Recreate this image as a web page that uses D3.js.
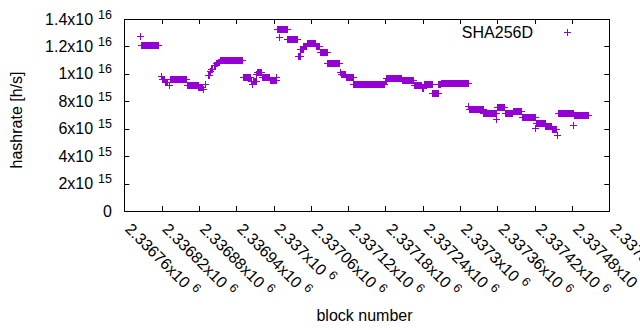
<!DOCTYPE html>
<html><head><meta charset="utf-8">
<script src="https://cdn.jsdelivr.net/npm/d3@7"></script>
<style>body{margin:0;background:#fff}svg{display:block}</style>
</head><body><svg id="c" width="640" height="330"></svg>
<script>
// Runs of consecutive blocks that share the same estimated hashrate
const runStart = [2336786,2336787,2336820,2336821,2336826,2336832,2336835,2336861,2336880,2336887,2336890,2336896,2336899,2336901,2336905,2336909,2336912,2336915,2336951,2336964,2336966,2336967,2336973,2336974,2336982,2336995,2337005,2337006,2337009,2337010,2337023,2337040,2337044,2337049,2337054,2337059,2337069,2337075,2337087,2337107,2337109,2337117,2337129,2337180,2337182,2337207,2337226,2337239,2337242,2337256,2337266,2337270,2337314,2337315,2337338,2337359,2337360,2337373,2337386,2337400,2337422,2337423,2337438,2337448,2337456,2337458,2337483,2337484];
const runEnd   = [2336786,2336815,2336820,2336825,2336830,2336833,2336860,2336879,2336885,2336887,2336891,2336897,2336899,2336902,2336906,2336910,2336913,2336950,2336963,2336965,2336966,2336972,2336973,2336981,2336994,2337004,2337005,2337008,2337009,2337022,2337038,2337043,2337048,2337053,2337058,2337068,2337074,2337086,2337106,2337108,2337116,2337128,2337179,2337181,2337206,2337225,2337238,2337241,2337255,2337265,2337269,2337313,2337314,2337337,2337358,2337359,2337372,2337385,2337399,2337421,2337422,2337437,2337447,2337455,2337457,2337482,2337483,2337506];
const runValue = [12.76e15,12.1e15,9.8e15,9.6e15,9.4e15,9.15e15,9.6e15,9.17e15,9.0e15,8.83e15,9.26e15,9.85e15,10.16e15,10.33e15,10.58e15,10.77e15,10.85e15,10.94e15,9.75e15,9.43e15,9.19e15,9.43e15,9.92e15,10.12e15,9.75e15,9.48e15,9.75e15,13.2e15,12.64e15,13.2e15,12.52e15,11.3e15,11.74e15,12.03e15,12.18e15,12.23e15,11.98e15,11.57e15,10.77e15,10.09e15,9.92e15,9.75e15,9.26e15,9.43e15,9.68e15,9.55e15,9.12e15,8.95e15,9.24e15,8.58e15,9.19e15,9.33e15,7.6e15,7.37e15,7.08e15,6.69e15,7.56e15,7.13e15,7.24e15,6.83e15,6.03e15,6.40e15,6.15e15,5.91e15,5.54e15,7.08e15,6.27e15,7.0e15];
const xTicks = [2336760,2336820,2336880,2336940,2337000,2337060,2337120,2337180,2337240,2337300,2337360,2337420,2337480,2337540];
const yTicks = [0,2e15,4e15,6e15,8e15,1e16,1.2e16,1.4e16];
const seriesName = "SHA256D";

const points = [];
runStart.forEach((s,i)=>{ d3.range(s, runEnd[i]+1).forEach(b=>points.push({block:b, value:runValue[i]})); });

const svg = d3.select("#c");
const L=124.3, R=609.3, T=19, B=211;
const x = d3.scaleLinear().domain([2336760,2337540]).range([L,R]);
const y = d3.scaleLinear().domain([0,1.4e16]).range([B,T]);
const font = "'Liberation Sans', Arial, sans-serif";
const color = "#9400d3";
const tl = 5;

// ticks (inward, mirrored)
const g = svg.append("g").attr("stroke","#000").attr("stroke-width",1);
xTicks.forEach(t=>{
  const px = Math.round(x(t))+0.5;
  g.append("line").attr("x1",px).attr("x2",px).attr("y1",B).attr("y2",B-tl);
  g.append("line").attr("x1",px).attr("x2",px).attr("y1",T).attr("y2",T+tl);
});
yTicks.forEach(t=>{
  const py = Math.round(y(t))+0.5;
  g.append("line").attr("x1",L).attr("x2",L+tl).attr("y1",py).attr("y2",py);
  g.append("line").attr("x1",R).attr("x2",R-tl).attr("y1",py).attr("y2",py);
});
svg.append("rect").attr("x",Math.round(L)+0.5).attr("y",T+0.5).attr("width",Math.round(R)-Math.round(L)).attr("height",B-T)
  .attr("fill","none").attr("stroke","#000").attr("stroke-width",1);

// y tick labels
yTicks.forEach(t=>{
  const tx = svg.append("text").attr("x",112).attr("y",y(t)+5.5).attr("text-anchor","end")
    .attr("font-family",font).attr("font-size",16).attr("fill","#000");
  if(t===0){ tx.text("0"); return; }
  const e = Math.floor(Math.log10(t)+1e-9);
  const m = +(t/Math.pow(10,e)).toFixed(1);
  tx.append("tspan").text(m+"x10");
  tx.append("tspan").attr("dx",5).attr("dy",-6).attr("font-size",12.5).text(e);
});

// x tick labels rotated
xTicks.forEach(t=>{
  const tx = svg.append("text").attr("transform",`translate(${x(t)},230) rotate(45)`)
    .attr("font-family",font).attr("font-size",16).attr("fill","#000");
  tx.append("tspan").text((+(t/1e6).toFixed(5))+"x10");
  tx.append("tspan").attr("dx",5).attr("dy",-6).attr("font-size",12.5).text("6");
});

// axis titles
svg.append("text").attr("x",364.5).attr("y",321).attr("text-anchor","middle")
  .attr("font-family",font).attr("font-size",16).text("block number");
svg.append("text").attr("transform","translate(22,120) rotate(-90)").attr("text-anchor","middle")
  .attr("font-family",font).attr("font-size",16).text("hashrate [h/s]");

// points as plus markers
const hs = 3.5;
const plus = (cx,cy)=>`M${cx-hs},${cy}H${cx+hs}M${cx},${cy-hs}V${cy+hs}`;
svg.append("g").attr("shape-rendering","crispEdges").selectAll("path").data(points).join("path")
  .attr("d",d=>plus(x(d.block),y(d.value)))
  .attr("stroke",color).attr("stroke-width",1).attr("fill","none");

// legend
svg.append("text").attr("x",533).attr("y",37.5).attr("text-anchor","end")
  .attr("font-family",font).attr("font-size",16).text(seriesName);
svg.append("path").attr("d",plus(567.7,32)).attr("shape-rendering","crispEdges")
  .attr("stroke",color).attr("stroke-width",1).attr("fill","none");
</script></body></html>
